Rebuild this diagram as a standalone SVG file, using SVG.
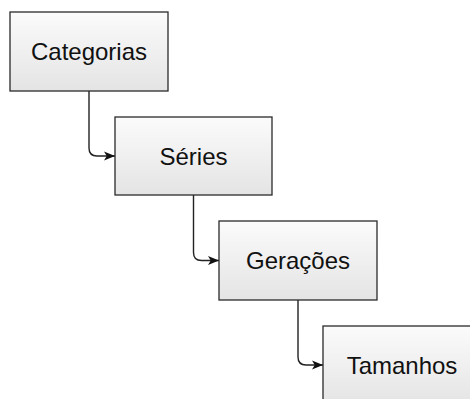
<svg xmlns="http://www.w3.org/2000/svg" width="470" height="399" viewBox="0 0 470 399">
  <defs>
    <linearGradient id="boxFill" x1="0" y1="0" x2="0" y2="1">
      <stop offset="0" stop-color="#fbfbfb"/>
      <stop offset="1" stop-color="#e4e4e4"/>
    </linearGradient>
    <marker id="arrow" viewBox="0 0 10 10" refX="10" refY="5" markerWidth="11" markerHeight="11" markerUnits="userSpaceOnUse" orient="auto">
      <path d="M0,0.8 L10,5 L0,9.2 L2.5,5 Z" fill="#111"/>
    </marker>
    <style>
      .box { fill: url(#boxFill); stroke: #2a2a2a; stroke-width: 1.3; }
      .label { font-family: "Liberation Sans", Arial, sans-serif; font-size: 24px; fill: #111; text-anchor: middle; dominant-baseline: central; }
      .link { fill: none; stroke: #222; stroke-width: 1.4; marker-end: url(#arrow); }
    </style>
  </defs>

  <g id="connectors">
    <path class="link" d="M89,91 V148 Q89,156 97,156 H115"/>
    <path class="link" d="M193.5,195 V252.5 Q193.5,260.5 201.5,260.5 H219"/>
    <path class="link" d="M298,300 V357 Q298,365 306,365 H323"/>
  </g>

  <g id="categorias">
    <rect class="box" x="10" y="12" width="158" height="79"/>
    <text class="label" x="89" y="51.5">Categorias</text>
  </g>

  <g id="series">
    <rect class="box" x="115" y="117" width="157" height="78"/>
    <text class="label" x="193.5" y="156">Séries</text>
  </g>

  <g id="geracoes">
    <rect class="box" x="219" y="221" width="158" height="79"/>
    <text class="label" x="298" y="260.5">Gerações</text>
  </g>

  <g id="tamanhos">
    <rect class="box" x="323" y="326" width="158" height="79"/>
    <text class="label" x="402" y="365.5">Tamanhos</text>
  </g>
</svg>
